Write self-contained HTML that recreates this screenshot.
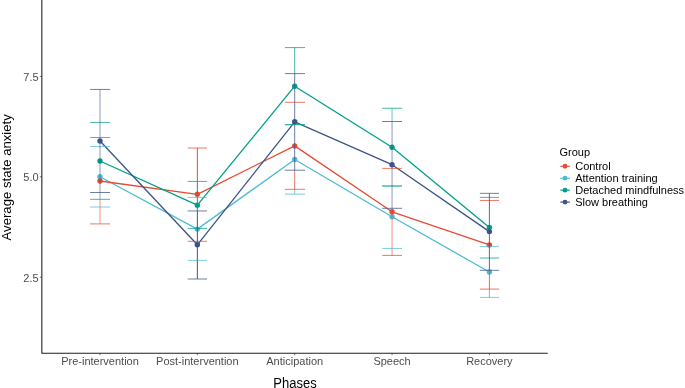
<!DOCTYPE html>
<html><head><meta charset="utf-8"><title>Chart</title>
<style>
html,body{margin:0;padding:0;background:#fff;}
body{width:685px;height:388px;overflow:hidden;}
svg{display:block;}
text{font-family:"Liberation Sans",sans-serif;}
.t{font-size:11px;fill:#4D4D4D;}
.ti{font-size:13px;fill:#000;}
.l{font-size:11px;fill:#000;}
</style></head><body>
<svg width="685" height="388" viewBox="0 0 685 388">
<rect width="685" height="388" fill="#fff"/>
<polyline points="100.00,176.80 197.35,229.10 294.70,159.50 392.05,216.80 489.40,272.00" stroke="#4DBBD5" stroke-width="1.3" fill="none" stroke-linejoin="round"/>
<polyline points="100.00,181.00 197.35,194.30 294.70,145.90 392.05,211.80 489.40,244.90" stroke="#E64B35" stroke-width="1.3" fill="none" stroke-linejoin="round"/>
<polyline points="100.00,161.00 197.35,205.15 294.70,86.20 392.05,147.25 489.40,227.50" stroke="#00A087" stroke-width="1.3" fill="none" stroke-linejoin="round"/>
<polyline points="100.00,141.00 197.35,244.80 294.70,121.80 392.05,164.70 489.40,231.60" stroke="#3C5488" stroke-width="1.3" fill="none" stroke-linejoin="round"/>
<circle cx="100.00" cy="176.80" r="2.7" fill="#4DBBD5"/>
<circle cx="197.35" cy="229.10" r="2.7" fill="#4DBBD5"/>
<circle cx="294.70" cy="159.50" r="2.7" fill="#4DBBD5"/>
<circle cx="392.05" cy="216.80" r="2.7" fill="#4DBBD5"/>
<circle cx="489.40" cy="272.00" r="2.7" fill="#4DBBD5"/>
<circle cx="100.00" cy="181.00" r="2.7" fill="#E64B35"/>
<circle cx="197.35" cy="194.30" r="2.7" fill="#E64B35"/>
<circle cx="294.70" cy="145.90" r="2.7" fill="#E64B35"/>
<circle cx="392.05" cy="211.80" r="2.7" fill="#E64B35"/>
<circle cx="489.40" cy="244.90" r="2.7" fill="#E64B35"/>
<circle cx="100.00" cy="161.00" r="2.7" fill="#00A087"/>
<circle cx="197.35" cy="205.15" r="2.7" fill="#00A087"/>
<circle cx="294.70" cy="86.20" r="2.7" fill="#00A087"/>
<circle cx="392.05" cy="147.25" r="2.7" fill="#00A087"/>
<circle cx="489.40" cy="227.50" r="2.7" fill="#00A087"/>
<circle cx="100.00" cy="141.00" r="2.7" fill="#3C5488"/>
<circle cx="197.35" cy="244.80" r="2.7" fill="#3C5488"/>
<circle cx="294.70" cy="121.80" r="2.7" fill="#3C5488"/>
<circle cx="392.05" cy="164.70" r="2.7" fill="#3C5488"/>
<circle cx="489.40" cy="231.60" r="2.7" fill="#3C5488"/>
<path d="M90.15 146.60H110.10M90.15 207.00H110.10M187.70 197.40H207.05M187.70 260.40H207.05M284.90 124.90H305.00M284.90 194.10H305.00M382.20 185.80H402.00M382.20 248.40H402.00M479.85 246.40H499.05M479.85 297.40H499.05" stroke="#4DBBD5" stroke-width="0.75" fill="none"/>
<path d="M294.70 189.30V194.10" stroke="#4DBBD5" stroke-width="0.75" fill="none"/>
<path d="M489.40 289.10V297.40" stroke="#4DBBD5" stroke-width="0.85" fill="none"/>
<path d="M90.15 137.50H110.10M90.15 223.90H110.10M187.70 148.00H207.05M187.70 241.30H207.05M284.90 102.30H305.00M284.90 189.30H305.00M382.20 168.40H402.00M382.20 255.40H402.00M479.85 200.45H499.05M479.85 289.10H499.05" stroke="#E64B35" stroke-width="0.75" fill="none"/>
<path d="M100.00 199.30V207.00M100.00 207.00V223.90" stroke="#E64B35" stroke-width="0.6" fill="none"/>
<path d="M197.35 148.00V181.40" stroke="#E64B35" stroke-width="1.0" fill="none"/>
<path d="M294.70 170.20V189.30" stroke="#E64B35" stroke-width="0.75" fill="none"/>
<path d="M392.05 208.30V248.40M392.05 248.40V255.40" stroke="#E64B35" stroke-width="0.6" fill="none"/>
<path d="M489.40 270.30V289.10" stroke="#E64B35" stroke-width="0.85" fill="none"/>
<path d="M90.15 122.40H110.10M90.15 199.30H110.10M187.70 181.40H207.05M187.70 228.40H207.05M284.90 47.60H305.00M284.90 124.50H305.00M382.20 108.25H402.00M382.20 186.10H402.00M479.85 197.40H499.05M479.85 258.00H499.05" stroke="#00A087" stroke-width="0.75" fill="none"/>
<path d="M100.00 192.50V199.30" stroke="#00A087" stroke-width="0.6" fill="none"/>
<path d="M197.35 181.40V197.40M197.35 197.40V210.95" stroke="#00A087" stroke-width="1.0" fill="none"/>
<path d="M294.70 47.60V73.60" stroke="#00A087" stroke-width="0.75" fill="none"/>
<path d="M392.05 108.25V121.50" stroke="#00A087" stroke-width="0.6" fill="none"/>
<path d="M90.15 89.45H110.10M90.15 192.50H110.10M187.70 210.95H207.05M187.70 279.00H207.05M284.90 73.60H305.00M284.90 170.20H305.00M382.20 121.50H402.00M382.20 208.30H402.00M479.85 193.35H499.05M479.85 270.30H499.05" stroke="#3C5488" stroke-width="0.75" fill="none"/>
<path d="M100.00 89.45V122.40M100.00 122.40V137.50M100.00 137.50V146.60M100.00 146.60V192.50" stroke="#3C5488" stroke-width="0.6" fill="none"/>
<path d="M197.35 210.95V228.40M197.35 228.40V241.30M197.35 241.30V260.40M197.35 260.40V279.00" stroke="#3C5488" stroke-width="1.0" fill="none"/>
<path d="M294.70 73.60V102.30M294.70 102.30V124.50M294.70 124.50V124.90M294.70 124.90V170.20" stroke="#3C5488" stroke-width="0.75" fill="none"/>
<path d="M392.05 121.50V168.40M392.05 168.40V185.80M392.05 185.80V186.10M392.05 186.10V208.30" stroke="#3C5488" stroke-width="0.6" fill="none"/>
<path d="M489.40 193.35V197.40M489.40 197.40V200.45M489.40 200.45V246.40M489.40 246.40V258.00M489.40 258.00V270.30" stroke="#3C5488" stroke-width="0.85" fill="none"/>
<path d="M41.85 0V353.25H547.7" stroke="#1f1f1f" stroke-width="1.07" fill="none" stroke-linejoin="round"/><path d="M39.95 76.4H41.85M39.95 176.8H41.85M39.95 277.2H41.85M100.0 353.25V355.15M197.35 353.25V355.15M294.7 353.25V355.15M392.05 353.25V355.15M489.4 353.25V355.15" stroke="#333333" stroke-width="0.7" fill="none"/>
<g style="opacity:0.999"><text x="38.6" y="81" text-anchor="end" class="t">7.5</text><text x="38.6" y="181" text-anchor="end" class="t">5.0</text><text x="38.6" y="282" text-anchor="end" class="t">2.5</text><text x="100.0" y="365.2" text-anchor="middle" class="t">Pre-intervention</text><text x="197.35" y="365.2" text-anchor="middle" class="t">Post-intervention</text><text x="294.7" y="365.2" text-anchor="middle" class="t">Anticipation</text><text x="392.05" y="365.2" text-anchor="middle" class="t">Speech</text><text x="489.4" y="365.2" text-anchor="middle" class="t">Recovery</text><text transform="translate(295,388) scale(1,1.06)" text-anchor="middle" class="ti">Phases</text><text transform="translate(10.8,177.3) rotate(-90)" text-anchor="middle" class="ti" style="font-size:13.17px">Average state anxiety</text>
<text x="559.5" y="156" class="l">Group</text><path d="M560.3 166.25H569.9" stroke="#E64B35" stroke-width="1.15"/><circle cx="565.0" cy="166.25" r="2.4" fill="#E64B35"/><text x="575.2" y="170" class="l">Control</text><path d="M560.3 178.20H569.9" stroke="#4DBBD5" stroke-width="1.15"/><circle cx="565.0" cy="178.20" r="2.4" fill="#4DBBD5"/><text x="575.2" y="182" class="l">Attention training</text><path d="M560.3 190.15H569.9" stroke="#00A087" stroke-width="1.15"/><circle cx="565.0" cy="190.15" r="2.4" fill="#00A087"/><text x="575.2" y="194" class="l">Detached mindfulness</text><path d="M560.3 202.10H569.9" stroke="#3C5488" stroke-width="1.15"/><circle cx="565.0" cy="202.10" r="2.4" fill="#3C5488"/><text x="575.2" y="206" class="l">Slow breathing</text></g>
</svg>
</body></html>
